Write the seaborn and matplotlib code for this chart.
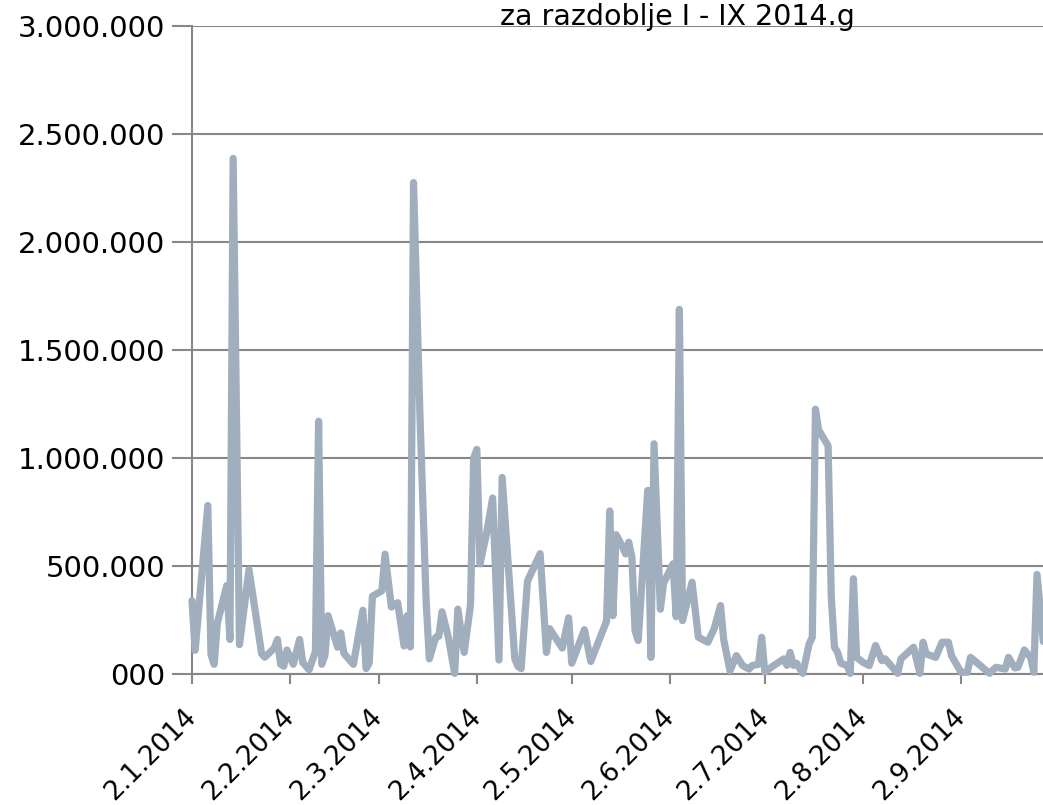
import matplotlib
matplotlib.use("Agg")
import matplotlib.pyplot as plt
import matplotlib.transforms as mtransforms
import seaborn as sns
import pandas as pd

title = "za razdoblje I - IX 2014.g"

dates = [
    "2014-01-02", "2014-01-03", "2014-01-07", "2014-01-08", "2014-01-09", "2014-01-10",
    "2014-01-13", "2014-01-14", "2014-01-15", "2014-01-17", "2014-01-20", "2014-01-24",
    "2014-01-25", "2014-01-28", "2014-01-29", "2014-01-30", "2014-01-31", "2014-02-01",
    "2014-02-03", "2014-02-05", "2014-02-06", "2014-02-08", "2014-02-10", "2014-02-11",
    "2014-02-12", "2014-02-13", "2014-02-14", "2014-02-17", "2014-02-18", "2014-02-19",
    "2014-02-22", "2014-02-25", "2014-02-26", "2014-02-27", "2014-02-28", "2014-03-03",
    "2014-03-04", "2014-03-06", "2014-03-08", "2014-03-10", "2014-03-11", "2014-03-12",
    "2014-03-13", "2014-03-15", "2014-03-17", "2014-03-18", "2014-03-20", "2014-03-21",
    "2014-03-22", "2014-03-24", "2014-03-26", "2014-03-27", "2014-03-29", "2014-03-31",
    "2014-04-01", "2014-04-02", "2014-04-03", "2014-04-05", "2014-04-07", "2014-04-09",
    "2014-04-10", "2014-04-14", "2014-04-15", "2014-04-16", "2014-04-18", "2014-04-22",
    "2014-04-24", "2014-04-25", "2014-04-29", "2014-05-01", "2014-05-02", "2014-05-06",
    "2014-05-08", "2014-05-13", "2014-05-14", "2014-05-15", "2014-05-16", "2014-05-18",
    "2014-05-19", "2014-05-20", "2014-05-21", "2014-05-22", "2014-05-23", "2014-05-26",
    "2014-05-27", "2014-05-28", "2014-05-30", "2014-05-31", "2014-06-03", "2014-06-04",
    "2014-06-05", "2014-06-06", "2014-06-09", "2014-06-11", "2014-06-14", "2014-06-16",
    "2014-06-18", "2014-06-19", "2014-06-21", "2014-06-23", "2014-06-25", "2014-06-27",
    "2014-06-28", "2014-06-30", "2014-07-01", "2014-07-02", "2014-07-04", "2014-07-08",
    "2014-07-09", "2014-07-10", "2014-07-11", "2014-07-12", "2014-07-14", "2014-07-16",
    "2014-07-17", "2014-07-18", "2014-07-19", "2014-07-22", "2014-07-23", "2014-07-24",
    "2014-07-25", "2014-07-26", "2014-07-28", "2014-07-29", "2014-07-30", "2014-07-31",
    "2014-08-02", "2014-08-04", "2014-08-06", "2014-08-08", "2014-08-09", "2014-08-13",
    "2014-08-14", "2014-08-18", "2014-08-20", "2014-08-21", "2014-08-22", "2014-08-25",
    "2014-08-27", "2014-08-29", "2014-08-30", "2014-09-02", "2014-09-04", "2014-09-05",
    "2014-09-09", "2014-09-11", "2014-09-13", "2014-09-16", "2014-09-17", "2014-09-19",
    "2014-09-20", "2014-09-22", "2014-09-24", "2014-09-25", "2014-09-26", "2014-09-28",
]

values = [
    340000, 110000, 780000, 90000, 45000, 235000,
    410000, 160000, 2387000, 136000, 483000, 94000,
    78000, 120000, 160000, 45000, 36000, 111000,
    45000, 160000, 53000, 20000, 103000, 1170000,
    45000, 86000, 270000, 124000, 190000, 95000,
    45000, 295000, 25000, 50000, 360000, 385000,
    555000, 310000, 330000, 130000, 270000, 125000,
    2275000, 1210000, 330000, 70000, 170000, 175000,
    288000, 170000, 3000, 300000, 100000, 320000,
    1000000, 1040000, 510000, 645000, 815000, 65000,
    910000, 70000, 35000, 25000, 430000, 557000,
    100000, 210000, 120000, 260000, 50000, 205000,
    58000, 245000, 755000, 270000, 645000, 590000,
    556000, 610000, 540000, 200000, 155000, 850000,
    77000, 1066000, 300000, 420000, 510000, 265000,
    1688000, 247000, 425000, 170000, 147000, 210000,
    317000, 160000, 15000, 85000, 39000, 23000,
    39000, 45000, 170000, 8000, 31000, 70000,
    40000, 100000, 40000, 50000, 3000, 139000,
    170000, 1226000, 1130000, 1056000, 356000, 124000,
    100000, 50000, 39000, 3000, 441000, 77000,
    54000, 39000, 132000, 62000, 70000, 3000,
    70000, 124000, 3000, 147000, 93000, 77000,
    147000, 147000, 85000, 8000, 8000, 77000,
    28000, 3000, 31000, 23000, 77000, 28000,
    31000, 111000, 77000, 8000, 461000, 150000,
]

y_ticks = [0, 500000, 1000000, 1500000, 2000000, 2500000, 3000000]
y_tick_labels = ["000", "500.000", "1.000.000", "1.500.000", "2.000.000", "2.500.000", "3.000.000"]
x_ticks = ["2014-01-02", "2014-02-02", "2014-03-02", "2014-04-02", "2014-05-02",
           "2014-06-02", "2014-07-02", "2014-08-02", "2014-09-02"]
x_tick_labels = ["2.1.2014", "2.2.2014", "2.3.2014", "2.4.2014", "2.5.2014",
                 "2.6.2014", "2.7.2014", "2.8.2014", "2.9.2014"]

sns.set_style("white")
plt.rcParams["font.family"] = ["DejaVu Sans"]
plt.rcParams["text.color"] = "black"

line_color = "#A0AEBE"
grid_color = "#878787"

df = pd.DataFrame({"date": pd.to_datetime(dates), "value": values})

fig = plt.figure(figsize=(10.43, 8.05), dpi=100)
W, H = 1043, 805
ax = fig.add_axes([192 / W, (H - 674) / H, (W - 192) / W, (674 - 26) / H])

sns.lineplot(data=df, x="date", y="value", ax=ax, color=line_color, linewidth=5.2,
             clip_on=False, solid_joinstyle="round", solid_capstyle="round", zorder=3)

ax.set_ylim(0, 3000000)
ax.set_xlim(pd.Timestamp("2014-01-02"), pd.Timestamp("2014-01-02") + pd.Timedelta(days=268.9))

ax.set_yticks(y_ticks)
ax.set_yticklabels(y_tick_labels, fontsize=21, color="black")
ax.set_xticks(pd.to_datetime(x_ticks))
ax.set_xticklabels(x_tick_labels, fontsize=19, rotation=45, ha="right", va="center",
                   rotation_mode="anchor", color="black")
shift = mtransforms.ScaledTranslation(5 / 100, 0, fig.dpi_scale_trans)
for lab in ax.get_xticklabels():
    lab.set_transform(lab.get_transform() + shift)

ax.set_xlabel("")
ax.set_ylabel("")
ax.grid(axis="y", color=grid_color, linewidth=1.5, zorder=1)
ax.grid(axis="x", visible=False)
ax.set_axisbelow(True)

for s in ["top", "right"]:
    ax.spines[s].set_visible(False)
for s in ["left", "bottom"]:
    ax.spines[s].set_color(grid_color)
    ax.spines[s].set_linewidth(1.5)

ax.tick_params(axis="y", which="major", direction="out", length=14.4, width=1.5,
               color=grid_color, labelcolor="black", pad=5, left=True)
ax.tick_params(axis="x", which="major", direction="out", length=7, width=1.5,
               color=grid_color, labelcolor="black", pad=21, bottom=True)

fig.text(677 / W, 1 - 25 / H, title, ha="center", va="baseline", fontsize=20.5,
         color="black")

fig.savefig("out.png", dpi=100)
